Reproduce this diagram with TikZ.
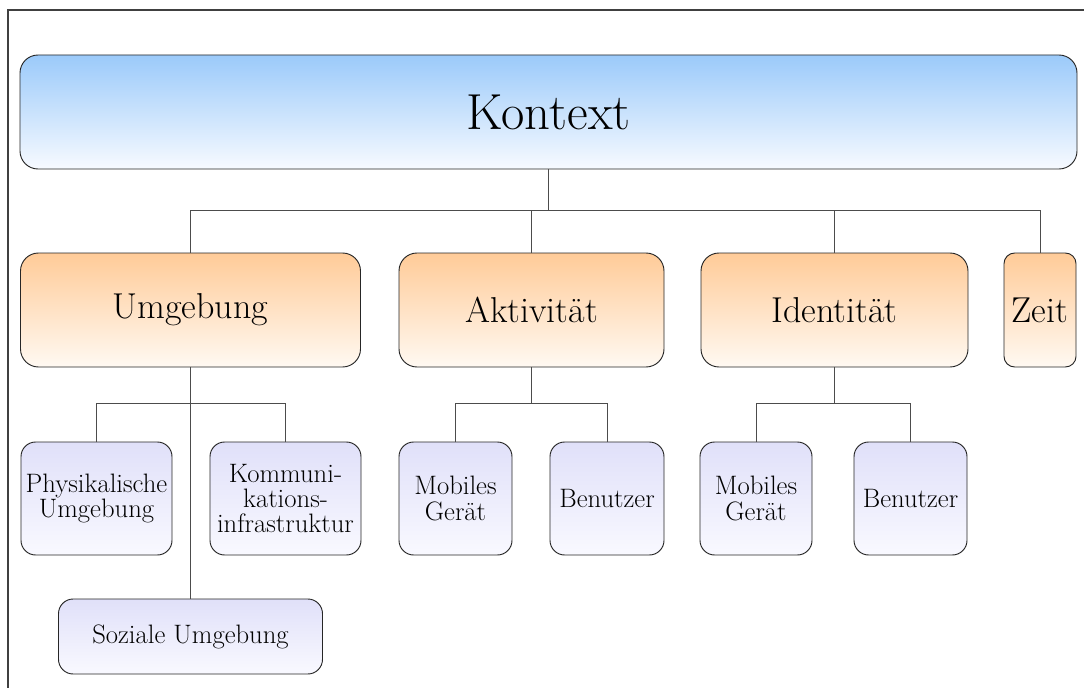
\documentclass[tikz,border=0pt]{standalone}
\definecolor{ktop}{RGB}{155,202,250}
\definecolor{kbot}{RGB}{247,250,255}
\definecolor{otop}{RGB}{255,203,152}
\definecolor{obot}{RGB}{255,249,242}
\definecolor{ltop}{RGB}{224,224,249}
\definecolor{lbot}{RGB}{249,249,255}
\tikzset{
  box/.style={draw=black!85, line width=0.7pt, align=center, inner sep=0pt, text=black},
  rootbox/.style={box, rounded corners=13.5pt, top color=ktop, bottom color=kbot,
    minimum width=792.75pt, minimum height=85.5pt, font=\fontsize{38}{43}\selectfont},
  catbox/.style={box, rounded corners=13.5pt, top color=otop, bottom color=obot,
    minimum height=85.5pt, font=\fontsize{27}{31}\selectfont},
  leafbox/.style={box, rounded corners=11pt, top color=ltop, bottom color=lbot,
    minimum height=84.75pt, font=\fontsize{20}{19}\selectfont},
  link/.style={draw=black!70, line width=0.6pt},
}
\begin{document}
\begin{tikzpicture}[x=0.75pt, y=-0.75pt]
\useasboundingbox (0,0) rectangle (1084,688);
% frame
\draw[black!75, line width=0.8pt] (8,688) -- (8,10) -- (1084,10);

% root
\node[rootbox] (kontext) at (548.5,112) {Kontext};

% categories
\node[catbox, minimum width=255pt]    (umg)  at (190.5,310) {Umgebung};
\node[catbox, minimum width=198.75pt] (akt)  at (531.5,310) {Aktivität};
\node[catbox, minimum width=200.25pt] (iden) at (834.5,310) {Identität};
\node[catbox, minimum width=54pt, rounded corners=8pt] (zeit) at (1040,310) {Zeit};

% leaves
\node[leafbox, minimum width=113.25pt] (phys) at (96.5,498.5)  {Physikalische\\Umgebung};
\node[leafbox, minimum width=113.25pt] (komm) at (285.5,498.5) {Kommuni-\\kations-\\infrastruktur};
\node[leafbox, minimum width=198pt, minimum height=56.25pt] (soz) at (190.5,636.5) {Soziale Umgebung};
\node[leafbox, minimum width=84.75pt]  (mob1) at (455.5,498.5) {Mobiles\\Gerät};
\node[leafbox, minimum width=85.5pt]   (ben1) at (607,498.5)   {Benutzer};
\node[leafbox, minimum width=84pt]     (mob2) at (756,498.5)   {Mobiles\\Gerät};
\node[leafbox, minimum width=84.75pt]  (ben2) at (910.5,498.5) {Benutzer};

% junction points
\coordinate (j0) at (548.5,210);
\coordinate (j1) at (190.5,403);
\coordinate (j2) at (531.5,403);
\coordinate (j3) at (834.5,403);

% connectors
\draw[link] (kontext.south) -- (j0);
\draw[link] (umg.north) |- (j0);
\draw[link] (akt.north) |- (j0);
\draw[link] (iden.north) |- (j0);
\draw[link] (zeit.north) |- (j0);

\draw[link] (umg.south) -- (soz.north);
\draw[link] (phys.north) |- (j1);
\draw[link] (komm.north) |- (j1);

\draw[link] (akt.south) -- (j2);
\draw[link] (mob1.north) |- (j2);
\draw[link] (ben1.north) |- (j2);

\draw[link] (iden.south) -- (j3);
\draw[link] (mob2.north) |- (j3);
\draw[link] (ben2.north) |- (j3);
\end{tikzpicture}
\end{document}
